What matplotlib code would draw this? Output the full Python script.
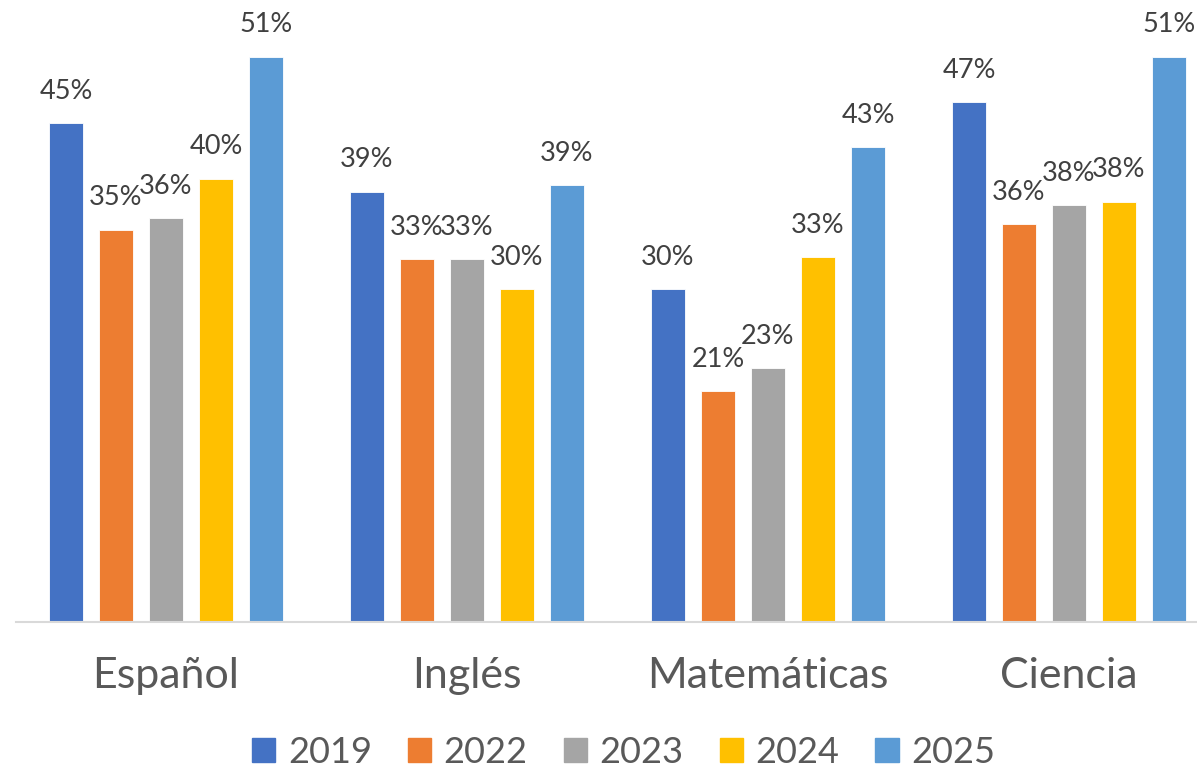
import matplotlib
matplotlib.use("Agg")
import matplotlib.pyplot as plt
from matplotlib.patches import Rectangle
import numpy as np

plt.rcParams['font.family'] = ['Lato', 'DejaVu Sans']

categories = ["Español", "Inglés", "Matemáticas", "Ciencia"]
years = ["2019", "2022", "2023", "2024", "2025"]
v2019 = [45.0, 38.8, 30.0, 46.9]
v2022 = [35.4, 32.7, 20.8, 35.9]
v2023 = [36.4, 32.7, 22.9, 37.6]
v2024 = [40.0, 30.0, 32.9, 37.9]
v2025 = [51.0, 39.4, 42.8, 51.0]
series = [v2019, v2022, v2023, v2024, v2025]
colors = ["#4472C4", "#ED7D31", "#A5A5A5", "#FFC000", "#5B9BD5"]

W, H = 1197, 774
fig = plt.figure(figsize=(W / 100, H / 100), dpi=100)
# axes: x from 15.5 px to 1219.5 px, y baseline at 622 px, top at 0 px
ax = fig.add_axes([15.5 / W, (H - 622) / H, 1204 / W, 622 / H])
ax.set_xlim(-0.5, 3.5)
ax.set_ylim(0, 56.1)

slot = 50 / 301
bw = 34 / 301
x = np.arange(len(categories))
for i, (vals, c) in enumerate(zip(series, colors)):
    pos = x + (i - 2) * slot
    ax.bar(pos, vals, width=bw, color=c, edgecolor='white', linewidth=0.6, zorder=2)
    for p, v in zip(pos, vals):
        ax.annotate(f"{v:.0f}%", (p, v), xytext=(0, 14), textcoords='offset points',
                    ha='center', va='bottom', fontsize=19.5, color='#404040',
                    annotation_clip=False)

for s in ['top', 'right', 'left']:
    ax.spines[s].set_visible(False)
ax.spines['bottom'].set_color('#D9D9D9')
ax.spines['bottom'].set_linewidth(1.5)
ax.set_yticks([])
ax.set_xticks(x)
ax.set_xticklabels(categories, fontsize=31, color='#595959')
ax.tick_params(axis='x', length=0, pad=25)

handles = [Rectangle((0, 0), 1, 1, color=c) for c in colors]
fig.legend(handles, years, loc='center', bbox_to_anchor=(0.521, 0.028), ncol=5,
           frameon=False, fontsize=26, labelcolor='#595959', handlelength=0.64,
           handleheight=0.64, handletextpad=0.35, columnspacing=1.0)

fig.savefig("out.png", dpi=100)
